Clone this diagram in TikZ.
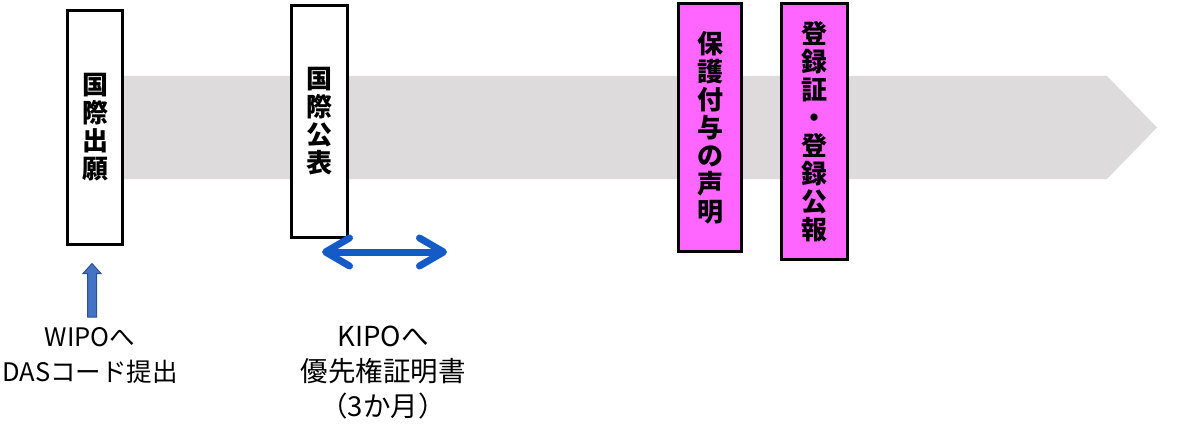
\documentclass[tikz,border=0pt]{standalone}
\usepackage{fontspec}
\newfontfamily\jp{Noto Sans CJK JP}
\usetikzlibrary{arrows.meta}
\definecolor{bandgray}{RGB}{221,219,220}
\definecolor{stamppink}{RGB}{255,102,255}
\definecolor{arrowblue}{RGB}{21,91,199}
\definecolor{upblue}{RGB}{68,114,196}
\definecolor{upedge}{RGB}{47,82,143}

\begin{document}
\begin{tikzpicture}[x=1pt,y=-1pt,
    stage/.style={draw,line width=3pt,fill=white,align=center,inner sep=0pt,
      font=\jp\bfseries\fontsize{26}{28}\selectfont},
    note/.style={align=center,inner sep=0pt,font=\jp\fontsize{27.5}{35}\selectfont}]
    \useasboundingbox (0,0) rectangle (1182,441);
    % time line
    \fill[bandgray] (100,76) -- (1107,76) -- (1157,127.5) -- (1107,179) -- (100,179) -- cycle;
    % stages
    \node[stage,minimum width=55pt,minimum height=234pt] (filing) at (95,127.5) {国\\際\\出\\願};
    \node[stage,minimum width=56pt,minimum height=232pt] (publication) at (319.5,121.5) {国\\際\\公\\表};
    \node[stage,fill=stamppink,minimum width=63pt,minimum height=248pt] (grant) at (710,127.5) {保\\護\\付\\与\\の\\声\\明};
    \node[stage,fill=stamppink,minimum width=66pt,minimum height=256pt] (registration) at (814.5,131.5) {登\\録\\証\\・\\登\\録\\公\\報};
    % notes
    \node[note,font=\jp\fontsize{25.5}{35}\selectfont] (wipo) at (90,355.5) {WIPOへ\\DASコード提出};
    \node[note] (kipo) at (383,373) {KIPOへ\\優先権証明書\\（3か月）};
    \filldraw[upblue,draw=upedge,line width=1pt] (87.5,317) -- (87.5,273.5) -- (83,273.5) -- (92,263.5)
      -- (101,273.5) -- (96.5,273.5) -- (96.5,317) -- cycle;
    \coordinate (delayL) at (322,252);
    \coordinate (delayR) at (447,252);
    \draw[arrowblue,line width=7pt,line cap=round,
      {Straight Barb[round,length=24pt,width=28pt]}-{Straight Barb[round,length=24pt,width=28pt]}] (delayL) -- (delayR);
\end{tikzpicture}
\end{document}
